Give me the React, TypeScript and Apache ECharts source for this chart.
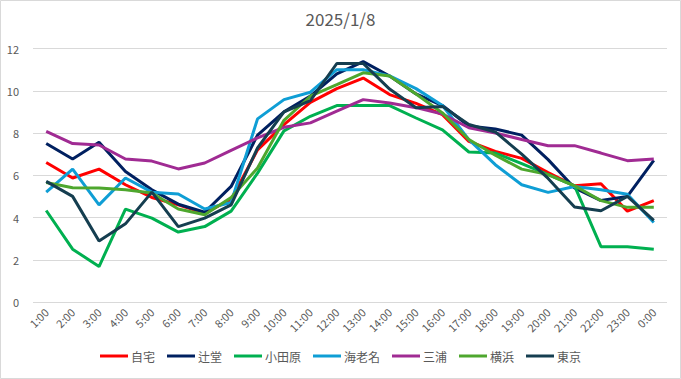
import React, { useEffect, useRef } from "react";
import * as echarts from "echarts";

const title = "2025/1/8";
const hours = ["1:00","2:00","3:00","4:00","5:00","6:00","7:00","8:00","9:00","10:00","11:00","12:00","13:00","14:00","15:00","16:00","17:00","18:00","19:00","20:00","21:00","22:00","23:00","0:00"];

const seriesNames = ["自宅", "辻堂", "小田原", "海老名", "三浦", "横浜", "東京"];
const seriesColors = ["#FF0000", "#002060", "#00B050", "#0F9ED5", "#A02B93", "#4EA72E", "#153E50"];

const jitaku = [6.6, 5.87, 6.29, 5.55, 4.95, 4.6, 4.2, 4.85, 7.2, 8.4, 9.45, 10.1, 10.6, 9.82, 9.4, 8.87, 7.6, 7.13, 6.8, 6.13, 5.5, 5.6, 4.3, 4.8];
const tsujido = [7.5, 6.77, 7.56, 6.18, 5.31, 4.63, 4.25, 5.47, 7.9, 9.0, 9.75, 10.8, 11.38, 10.7, 9.85, 9.3, 8.33, 8.19, 7.9, 6.74, 5.4, 4.8, 5.0, 6.7];
const odawara = [4.33, 2.5, 1.68, 4.4, 3.97, 3.31, 3.57, 4.3, 6.1, 8.1, 8.79, 9.3, 9.3, 9.3, 8.71, 8.15, 7.1, 7.05, 6.55, 6.03, 5.5, 2.62, 2.62, 2.5];
const ebina = [5.2, 6.29, 4.6, 5.87, 5.2, 5.11, 4.4, 4.71, 8.67, 9.58, 9.93, 11.0, 11.0, 10.7, 10.1, 9.3, 7.69, 6.5, 5.55, 5.19, 5.47, 5.31, 5.1, 3.76];
const miura = [8.08, 7.5, 7.43, 6.77, 6.67, 6.3, 6.58, 7.18, 7.77, 8.27, 8.48, 9.03, 9.58, 9.42, 9.2, 8.9, 8.25, 8.0, 7.69, 7.4, 7.4, 7.05, 6.69, 6.77];
const yokohama = [5.66, 5.41, 5.4, 5.31, 5.16, 4.4, 4.13, 4.95, 6.34, 8.6, 9.74, 10.29, 10.85, 10.7, 9.85, 8.95, 7.69, 6.95, 6.29, 6.03, 5.5, 4.8, 4.48, 4.48];
const tokyo = [5.71, 5.0, 2.89, 3.7, 5.2, 3.57, 3.97, 4.6, 7.29, 9.0, 9.53, 11.29, 11.29, 10.08, 9.2, 9.26, 8.4, 8.05, 7.0, 5.85, 4.5, 4.32, 5.0, 3.86];

const seriesData = [jitaku, tsujido, odawara, ebina, miura, yokohama, tokyo];

const FONT = "'Noto Sans CJK JP', 'Noto Sans', sans-serif";

export default function App() {
  const ref = useRef<HTMLDivElement>(null);
  useEffect(() => {
    if (!ref.current) return;
    const chart = echarts.init(ref.current, undefined, { renderer: "svg" });
    chart.setOption({
      animation: false,
      backgroundColor: "#ffffff",
      textStyle: { fontFamily: FONT },
      title: {
        text: title,
        left: "center",
        top: 5,
        textStyle: { fontFamily: FONT, fontSize: 17, fontWeight: "normal", color: "#595959" },
      },
      graphic: [
        {
          type: "rect",
          shape: { x: 0.5, y: 0.5, width: 680, height: 378 },
          style: { fill: "none", stroke: "#d9d9d9", lineWidth: 1 },
          silent: true,
        },
      ],
      legend: {
        data: seriesNames,
        bottom: 12,
        left: "center",
        icon: "rect",
        itemWidth: 28,
        itemHeight: 3,
        itemGap: 12,
        textStyle: { fontFamily: FONT, fontSize: 12, color: "#595959", padding: [0, 0, 0, -2] },
      },
      grid: { left: 33, right: 14, top: 48.5, bottom: 77, containLabel: false },
      xAxis: {
        type: "category",
        data: hours,
        boundaryGap: true,
        axisLine: { show: false },
        axisTick: { show: false },
        axisLabel: { rotate: 45, fontSize: 11, color: "#595959", margin: 8, interval: 0, fontFamily: FONT },
      },
      yAxis: {
        type: "value",
        min: 0,
        max: 12,
        interval: 2,
        axisLine: { show: false },
        axisTick: { show: false },
        axisLabel: { fontSize: 11, color: "#595959", margin: 14, fontFamily: FONT },
        splitLine: { lineStyle: { color: "#d9d9d9", width: 1 } },
      },
      series: seriesNames.map((name, i) => ({
        name,
        type: "line",
        data: seriesData[i],
        showSymbol: false,
        symbol: "none",
        color: seriesColors[i],
        lineStyle: { width: 3, color: seriesColors[i] },
      })),
    });
    return () => chart.dispose();
  }, []);
  return (
    <div
      ref={ref}
      style={{ position: "absolute", left: 0, top: 0, width: 681, height: 379 }}
    />
  );
}
